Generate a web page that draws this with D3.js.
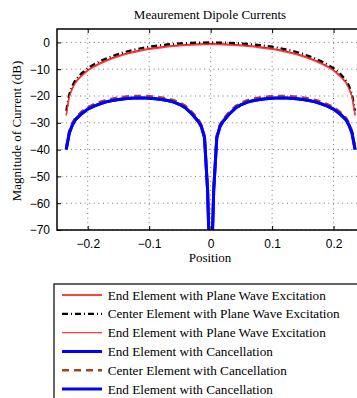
<!DOCTYPE html>
<html><head><meta charset="utf-8">
<script src="https://cdn.jsdelivr.net/npm/d3@7"></script>
<style>html,body{margin:0;padding:0;background:#fff;overflow:hidden}</style>
</head><body><svg id="c" width="357" height="398"></svg>
<script>
// ---- data ----
const posPW = [-0.235,-0.23,-0.225,-0.22,-0.21,-0.2,-0.19,-0.18,-0.17,-0.16,-0.15,-0.14,-0.13,-0.12,-0.11,-0.1,-0.09,-0.08,-0.07,-0.06,-0.05,-0.04,-0.03,-0.02,-0.01,0,0.01,0.02,0.03,0.04,0.05,0.06,0.07,0.08,0.09,0.1,0.11,0.12,0.13,0.14,0.15,0.16,0.17,0.18,0.19,0.2,0.21,0.22,0.225,0.23,0.235];
const endPW1 = [-27,-20,-17,-14.8,-12.3,-10.3,-8.9,-7.7,-6.7,-5.8,-5.0,-4.3,-3.7,-3.2,-2.7,-2.3,-2.0,-1.7,-1.4,-1.2,-1.0,-0.8,-0.7,-0.6,-0.55,-0.5,-0.55,-0.6,-0.7,-0.8,-1.0,-1.2,-1.4,-1.7,-2.0,-2.3,-2.7,-3.2,-3.7,-4.3,-5.0,-5.8,-6.7,-7.7,-8.9,-10.3,-12.3,-14.8,-17,-20,-27];
const centerPW = [-25.5,-19.3,-16.2,-14,-11.5,-9.6,-8.2,-7.0,-6.0,-5.1,-4.3,-3.6,-3.0,-2.5,-2.0,-1.6,-1.3,-1.0,-0.75,-0.55,-0.4,-0.25,-0.15,-0.08,-0.03,0,-0.03,-0.08,-0.15,-0.25,-0.4,-0.55,-0.75,-1.0,-1.3,-1.6,-2.0,-2.5,-3.0,-3.6,-4.3,-5.1,-6.0,-7.0,-8.2,-9.6,-11.5,-14,-16.2,-19.3,-25.5];
const endPW2 = [-27.3,-20.3,-17.3,-15.1,-12.6,-10.6,-9.2,-8.0,-7.0,-6.1,-5.3,-4.6,-4.0,-3.5,-3.0,-2.6,-2.3,-2.0,-1.7,-1.5,-1.3,-1.1,-1.0,-0.9,-0.85,-0.8,-0.85,-0.9,-1.0,-1.1,-1.3,-1.5,-1.7,-2.0,-2.3,-2.6,-3.0,-3.5,-4.0,-4.6,-5.3,-6.1,-7.0,-8.0,-9.2,-10.6,-12.6,-15.1,-17.3,-20.3,-27.3];
const posC = [-0.235,-0.23,-0.225,-0.22,-0.21,-0.2,-0.19,-0.18,-0.17,-0.16,-0.15,-0.14,-0.13,-0.12,-0.11,-0.1,-0.09,-0.08,-0.07,-0.06,-0.05,-0.04,-0.03,-0.02,-0.015,-0.01,-0.005,0,0.005,0.01,0.015,0.02,0.03,0.04,0.05,0.06,0.07,0.08,0.09,0.1,0.11,0.12,0.13,0.14,0.15,0.16,0.17,0.18,0.19,0.2,0.21,0.22,0.225,0.23,0.235];
const endC1 = [-40,-33.8,-30.8,-28.8,-26.6,-24.9,-23.8,-22.9,-22.2,-21.7,-21.3,-21.0,-20.8,-20.7,-20.7,-20.8,-21.0,-21.3,-21.7,-22.3,-23.2,-24.6,-26.8,-29.5,-31.5,-35.5,-55,-95,-55,-35.5,-31.5,-29.5,-26.8,-24.6,-23.2,-22.3,-21.7,-21.3,-21.0,-20.8,-20.7,-20.7,-20.8,-21.0,-21.3,-21.7,-22.2,-22.9,-23.8,-24.9,-26.6,-28.8,-30.8,-33.8,-40];
const centerC = [-39.3,-33.1,-30.1,-28.1,-25.9,-24.2,-23.1,-22.2,-21.5,-21.0,-20.6,-20.3,-20.1,-20.0,-20.0,-20.1,-20.3,-20.6,-21.0,-21.6,-22.5,-23.9,-26.1,-28.8,-30.8,-34.8,-54,-95,-54,-34.8,-30.8,-28.8,-26.1,-23.9,-22.5,-21.6,-21.0,-20.6,-20.3,-20.1,-20.0,-20.0,-20.1,-20.3,-20.6,-21.0,-21.5,-22.2,-23.1,-24.2,-25.9,-28.1,-30.1,-33.1,-39.3];
const endC2 = [-40,-33.8,-30.8,-28.8,-26.6,-24.9,-23.8,-22.9,-22.2,-21.7,-21.3,-21.0,-20.8,-20.7,-20.7,-20.8,-21.0,-21.3,-21.7,-22.3,-23.2,-24.6,-26.8,-29.5,-31.5,-35.5,-55,-95,-55,-35.5,-31.5,-29.5,-26.8,-24.6,-23.2,-22.3,-21.7,-21.3,-21.0,-20.8,-20.7,-20.7,-20.8,-21.0,-21.3,-21.7,-22.2,-22.9,-23.8,-24.9,-26.6,-28.8,-30.8,-33.8,-40];
const xTicks = [-0.2,-0.1,0,0.1,0.2];
const yTicks = [0,-10,-20,-30,-40,-50,-60,-70];
const seriesNames = ["End Element with Plane Wave Excitation","Center Element with Plane Wave Excitation","End Element with Plane Wave Excitation","End Element with Cancellation","Center Element with Cancellation","End Element with Cancellation"];
const titleText = "Meaurement Dipole Currents";
const xLabel = "Position";
const yLabel = "Magnitude of Current (dB)";

// ---- chart ----
const svg = d3.select("#c");
const L = 57, R = 364.3, T = 29, B = 230;
const x = d3.scaleLinear().domain([-0.25,0.25]).range([L,R]);
const y = d3.scaleLinear().domain([-70,5]).range([B,T]);
const serif = "'Liberation Serif','Times New Roman',serif";
const sans = "'Liberation Sans',Arial,sans-serif";

svg.append("rect").attr("width",357).attr("height",398).attr("fill","#fff");
svg.append("defs").append("clipPath").attr("id","clip").append("rect").attr("x",L).attr("y",T).attr("width",R-L).attr("height",B-T);

// grid
const grid = svg.append("g");
xTicks.forEach(t=>grid.append("line").attr("x1",x(t)).attr("x2",x(t)).attr("y1",T).attr("y2",B)
  .attr("stroke","#666").attr("stroke-width",0.9).attr("stroke-dasharray","1,3.6"));
yTicks.forEach(t=>grid.append("line").attr("x1",L).attr("x2",R).attr("y1",y(t)).attr("y2",y(t))
  .attr("stroke","#666").attr("stroke-width",0.9).attr("stroke-dasharray","1,3.6"));

// series
const styles = [
  {pos:posPW, v:endPW1, color:"#ff0000", w:1.3, dash:null},
  {pos:posPW, v:centerPW, color:"#000000", w:2.2, dash:"6,3,1,3"},
  {pos:posPW, v:endPW2, color:"#ff3b3b", w:1.3, dash:null},
  {pos:posC, v:endC1, color:"#0000ff", w:3, dash:null},
  {pos:posC, v:centerC, color:"#a5431a", w:2.6, dash:"7,5"},
  {pos:posC, v:endC2, color:"#0000ff", w:3, dash:null}
];
const plot = svg.append("g").attr("clip-path","url(#clip)");
styles.forEach(s=>{
  const line = d3.line().x((d,i)=>x(s.pos[i])).y(d=>y(d));
  plot.append("path").datum(s.v).attr("d",line).attr("fill","none")
    .attr("stroke",s.color).attr("stroke-width",s.w)
    .attr("stroke-dasharray",s.dash).attr("stroke-linejoin","round");
});

// axes (MATLAB style, inward ticks)
const xAxisG = svg.append("g").attr("transform",`translate(0,${B})`)
  .call(d3.axisBottom(x).tickValues(xTicks).tickSizeInner(-4).tickSizeOuter(0).tickPadding(9));
xAxisG.select(".domain").remove();
xAxisG.selectAll("text").attr("font-family",sans).attr("font-size",12).attr("fill","#000").text(d=>d===0?"0":(d<0?"−":"")+Math.abs(d).toFixed(1));
const yAxisG = svg.append("g").attr("transform",`translate(${L},0)`)
  .call(d3.axisLeft(y).tickValues(yTicks).tickSizeInner(-4).tickSizeOuter(0).tickPadding(7));
yAxisG.select(".domain").remove();
yAxisG.selectAll("text").attr("font-family",sans).attr("font-size",12).attr("fill","#000").text(d=>d===0?"0":"−"+Math.abs(d));
const topAxisG = svg.append("g").attr("transform",`translate(0,${T})`)
  .call(d3.axisTop(x).tickValues(xTicks).tickSizeInner(-4).tickSizeOuter(0).tickFormat(""));
topAxisG.select(".domain").remove();
// box
svg.append("path").attr("d",`M${R},${T}H${L}V${B}H${R}`).attr("fill","none").attr("stroke","#000").attr("stroke-width",1.5);

// labels
svg.append("text").attr("x",210).attr("y",19).attr("text-anchor","middle").attr("font-family",serif).attr("font-size",13).text(titleText);
svg.append("text").attr("x",210).attr("y",262).attr("text-anchor","middle").attr("font-family",serif).attr("font-size",13).text(xLabel);
svg.append("text").attr("transform","translate(21,131) rotate(-90)").attr("text-anchor","middle").attr("font-family",serif).attr("font-size",13).text(yLabel);

// legend
const lg = svg.append("g");
lg.append("rect").attr("x",54).attr("y",284).attr("width",360).attr("height",140).attr("fill","#fff").attr("stroke","#000").attr("stroke-width",1.2);
seriesNames.forEach((name,i)=>{
  const yy = 295 + i*18.8;
  const s = styles[i];
  lg.append("line").attr("x1",62).attr("x2",102).attr("y1",yy).attr("y2",yy)
    .attr("stroke",s.color).attr("stroke-width",s.w).attr("stroke-dasharray",s.dash);
  lg.append("text").attr("x",107.7).attr("y",yy+4.5).attr("font-family",serif).attr("font-size",13.2).text(name);
});
</script></body></html>
